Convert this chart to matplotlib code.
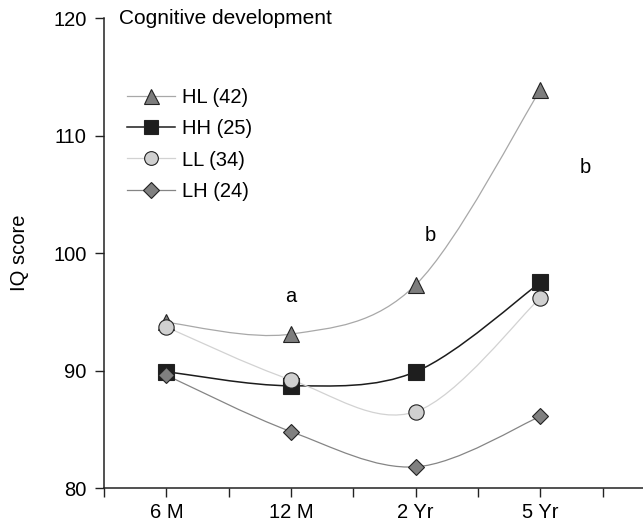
import numpy as np
import matplotlib
matplotlib.use("Agg")
import matplotlib.pyplot as plt
from matplotlib.path import Path
from matplotlib.patches import PathPatch

plt.rcParams['font.family'] = ['Liberation Sans', 'DejaVu Sans']
plt.rcParams['font.size'] = 14.5

# data
ages = ["6 M", "12 M", "2 Yr", "5 Yr"]
groups = ["HL (42)", "HH (25)", "LL (34)", "LH (24)"]
hl = [94.1, 93.1, 97.3, 113.9]
hh = [89.9, 88.7, 89.9, 97.5]
ll = [93.7, 89.2, 86.5, 96.2]
lh = [89.6, 84.8, 81.8, 86.1]
sig_labels = ["a", "b", "b"]

series = [hl, hh, ll, lh]
line_cols = ['#a8a8a8', '#1c1c1c', '#d2d2d2', '#858585']
face_cols = ['#7d7d7d', '#1e1e1e', '#d0d0d0', '#808080']
markers = ['^', 's', 'o', 'D']
msizes = [12, 11, 11, 8.5]
fs = 14.5


def smooth_path(x, y):
    # Excel style smoothed line as cubic bezier segments
    pts = np.column_stack([x, y]).astype(float)
    n = len(pts)
    verts = [pts[0]]
    codes = [Path.MOVETO]
    for i in range(n - 1):
        p0 = pts[max(i - 1, 0)]
        p1 = pts[i]
        p2 = pts[i + 1]
        p3 = pts[min(i + 2, n - 1)]
        c1 = p1 + (p2 - p0) / 6.0
        c2 = p2 - (p3 - p1) / 6.0
        verts += [c1, c2, p2]
        codes += [Path.CURVE4] * 3
    return Path(verts, codes)


fig = plt.figure(figsize=(6.43, 5.22), dpi=100)
ax = fig.add_axes([0.1617, 0.0651, 1 - 0.1617, 0.9655 - 0.0651])

x = np.arange(1, len(ages) + 1)
handles = []
for k, vals in enumerate(series):
    lw = 1.1 if k == 1 else 0.9
    patch = PathPatch(smooth_path(x, vals), facecolor='none', edgecolor=line_cols[k],
                      lw=lw, zorder=2 + k * 0.1)
    ax.add_patch(patch)
    ax.plot(x, vals, linestyle='none', marker=markers[k], ms=msizes[k],
            mfc=face_cols[k], mec='#222222', mew=0.8, zorder=3 + k * 0.1)
    h, = ax.plot([], [], color=line_cols[k], lw=lw, marker=markers[k], ms=msizes[k] * 0.9,
                 mfc=face_cols[k], mec='#222222', mew=0.8)
    handles.append(h)

ax.set_xlim(0.5, 0.5 + (643 - 104) / 124.7)
ax.set_ylim(80, 120)
ax.set_yticks([80, 90, 100, 110, 120])
ax.set_xticks(x)
ax.set_xticklabels(ages)
ax.set_xticks(np.arange(0.5, 5, 1.0), minor=True)
ax.tick_params(axis='both', direction='out', length=6.5, width=1, color='#222222', labelsize=fs)
ax.tick_params(axis='x', which='minor', length=6.5, width=1, color='#222222')
ax.tick_params(axis='y', pad=6)
ax.tick_params(axis='x', pad=4)
for s in ['top', 'right']:
    ax.spines[s].set_visible(False)
for s in ['left', 'bottom']:
    ax.spines[s].set_linewidth(1.1)
    ax.spines[s].set_color('#222222')

ax.set_ylabel("IQ score", fontsize=fs)
ax.yaxis.set_label_coords(-0.14, 0.5)

ax.text(0.027, 0.987, "Cognitive development", transform=ax.transAxes,
        ha='left', va='baseline', fontsize=15)

# significance letters
ax.text(2, 96.3, sig_labels[0], ha='center', va='center', fontsize=fs)
ax.text(3.12, 101.5, sig_labels[1], ha='center', va='center', fontsize=fs)
ax.text(4.36, 107.3, sig_labels[2], ha='center', va='center', fontsize=fs)

ax.legend(handles, groups, loc='upper left', bbox_to_anchor=(0.043, 0.852),
          frameon=False, borderpad=0, borderaxespad=0, handlelength=2.4,
          handletextpad=0.3, labelspacing=0.62, fontsize=fs)

fig.savefig("out.png", dpi=100)
